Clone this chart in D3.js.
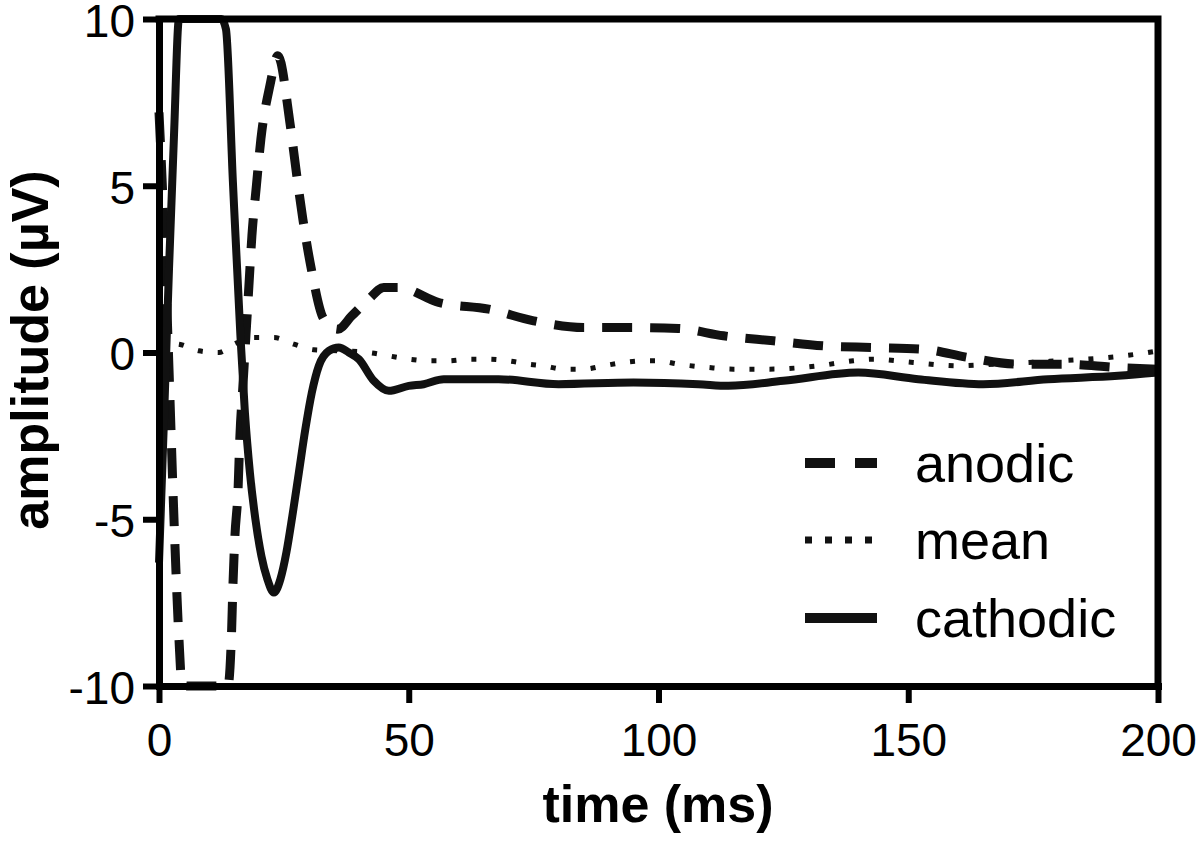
<!DOCTYPE html>
<html>
<head>
<meta charset="utf-8">
<script src="https://cdn.jsdelivr.net/npm/d3@7"></script>
<style>
  html, body { margin: 0; padding: 0; background: #fff; }
  svg { display: block; }
  text { font-family: "Liberation Sans", Arial, sans-serif; fill: #000; }
</style>
</head>
<body>
<svg id="chart" width="1200" height="841"></svg>
<script>
// ---- data ----
const anodicT = [0, 1, 2, 3, 4, 4.5, 5.5, 8, 10, 12, 13, 13.8, 14.5, 14.8, 15.2, 15.8, 16.2, 16.8, 17.4, 18, 18.6, 19.5, 20.4, 22.2, 23.8, 26.2, 27.5, 28.8, 30.5, 33, 35.8, 38.6, 42, 45, 48, 56, 66, 75, 85, 94, 104, 113, 123, 133, 143, 153, 162, 172, 181, 192, 200];
const anodicV = [7.2, 3.8, -0.5, -5, -8.6, -9.8, -11.5, -12, -12, -11.5, -11, -10, -8.5, -7, -5.5, -4.2, -2.5, -1, 0.5, 2, 3.5, 5, 6.4, 8, 8.9, 6.9, 5.4, 4, 2.5, 1.0, 0.7, 1.1, 1.6, 1.95, 1.95, 1.5, 1.3, 0.95, 0.75, 0.75, 0.72, 0.5, 0.35, 0.2, 0.15, 0.1, -0.15, -0.35, -0.35, -0.45, -0.5];

const meanT = [0, 4, 8, 12, 15, 19, 23, 27, 31, 36, 42, 46, 50, 54, 58, 62, 66, 70, 74, 77, 81, 85, 89, 93, 97, 100, 104, 110, 115, 122, 132, 139, 143, 151, 160, 167, 180, 190, 198, 200];
const meanV = [0.3, 0.25, 0.05, 0, 0.25, 0.45, 0.45, 0.25, 0.08, 0.05, 0, -0.1, -0.2, -0.25, -0.25, -0.2, -0.2, -0.25, -0.35, -0.4, -0.5, -0.5, -0.4, -0.3, -0.25, -0.25, -0.35, -0.45, -0.5, -0.5, -0.4, -0.25, -0.2, -0.3, -0.4, -0.35, -0.25, -0.15, 0, 0.05];

const cathodicT = [0, 1, 2, 3, 4, 5, 7, 9, 11, 12.5, 13.4, 14.8, 16.3, 17.2, 18.2, 19.3, 20.5, 21.7, 23, 24.3, 25.5, 26.7, 28, 29.3, 30.6, 32, 34, 36, 38, 40, 43, 46, 50, 53, 57, 68, 80, 95, 108, 114, 125, 140, 152, 165, 178, 192, 200];
const cathodicV = [-6.3, -2, 2.5, 6.5, 10.2, 12.5, 14, 14, 12.8, 10.8, 9.7, 5.1, 0.5, -1.8, -3.6, -5.0, -6.1, -6.8, -7.2, -6.8, -6.0, -4.9, -3.6, -2.3, -1.2, -0.4, 0.05, 0.15, 0.0, -0.2, -0.85, -1.15, -1.0, -0.95, -0.8, -0.8, -0.95, -0.9, -0.95, -1.0, -0.85, -0.6, -0.8, -0.95, -0.8, -0.7, -0.6];

const xTicks = [0, 50, 100, 150, 200];
const yTicks = [-10, -5, 0, 5, 10];
const xTickLabels = ["0", "50", "100", "150", "200"];
const yTickLabels = ["-10", "-5", "0", "5", "10"];
const seriesNames = ["anodic", "mean", "cathodic"];
const xTitle = "time (ms)";
const yTitle = "amplitude (\u00B5V)";

// ---- drawing ----
const svg = d3.select("#chart");
const x = d3.scaleLinear().domain([0, 200]).range([159, 1158]);
const y = d3.scaleLinear().domain([-10, 10]).range([686, 19]).clamp(true);

const ink = "#111";

function zip(ts, vs) { return ts.map((t, i) => ({ t: t, v: vs[i] })); }
const line = d3.line().x(d => x(d.t)).y(d => y(d.v)).curve(d3.curveMonotoneX);

const series = [
  { name: seriesNames[0], data: zip(anodicT, anodicV), width: 9, dash: "30,18" },
  { name: seriesNames[1], data: zip(meanT, meanV), width: 5, dash: "5,15" },
  { name: seriesNames[2], data: zip(cathodicT, cathodicV), width: 8, dash: null }
];

const plot = svg.append("g");
series.forEach(s => {
  plot.append("path")
    .datum(s.data)
    .attr("d", line)
    .attr("fill", "none")
    .attr("stroke", ink)
    .attr("stroke-width", s.width)
    .attr("stroke-dasharray", s.dash)
    .attr("stroke-linecap", "butt")
    .attr("stroke-linejoin", "round");
});

// frame (top & right)
const [x0, x1] = x.range();
const [yb, yt] = y.range();
svg.append("path")
  .attr("d", `M${x0},${yt}H${x1}V${yb}`)
  .attr("fill", "none").attr("stroke", "#000").attr("stroke-width", 7)
  .attr("stroke-linecap", "square");

// axes
const axL = svg.append("g").attr("transform", `translate(${x0},0)`)
  .call(d3.axisLeft(y).tickValues(yTicks).tickFormat((d, i) => yTickLabels[i]).tickSize(16).tickSizeOuter(0).tickPadding(8));
const axB = svg.append("g").attr("transform", `translate(0,${yb})`)
  .call(d3.axisBottom(x).tickValues(xTicks).tickFormat((d, i) => xTickLabels[i]).tickSize(17).tickSizeOuter(0).tickPadding(20));

[axL, axB].forEach(ax => {
  ax.select(".domain").attr("stroke", "#000").attr("stroke-width", 7).attr("stroke-linecap", "square");
  ax.selectAll(".tick line").attr("stroke", "#000").attr("stroke-width", 6);
  ax.selectAll(".tick text").attr("font-size", 46).attr("fill", "#000")
    .attr("font-family", "'Liberation Sans', Arial, sans-serif");
});
axL.selectAll(".tick text").attr("dy", "0.38em");

// axis titles
svg.append("text")
  .attr("x", 658).attr("y", 822)
  .attr("text-anchor", "middle")
  .attr("font-size", 52).attr("font-weight", "bold")
  .text(xTitle);

svg.append("text")
  .attr("transform", "translate(48,350) rotate(-90)")
  .attr("text-anchor", "middle")
  .attr("font-size", 52).attr("font-weight", "bold")
  .text(yTitle);

// legend
const legendY = [463, 540, 618];
const legendDash = ["30,20", "7,13", null];
const legendW = [10, 7, 10];
series.forEach((s, i) => {
  const g = svg.append("g").attr("transform", `translate(0,${legendY[i]})`);
  g.append("line")
    .attr("x1", 805).attr("x2", 877).attr("y1", 0).attr("y2", 0)
    .attr("stroke", ink).attr("stroke-width", legendW[i])
    .attr("stroke-dasharray", legendDash[i]);
  g.append("text")
    .attr("x", 915).attr("y", 19)
    .attr("font-size", 54)
    .text(s.name);
});
</script>
</body>
</html>
